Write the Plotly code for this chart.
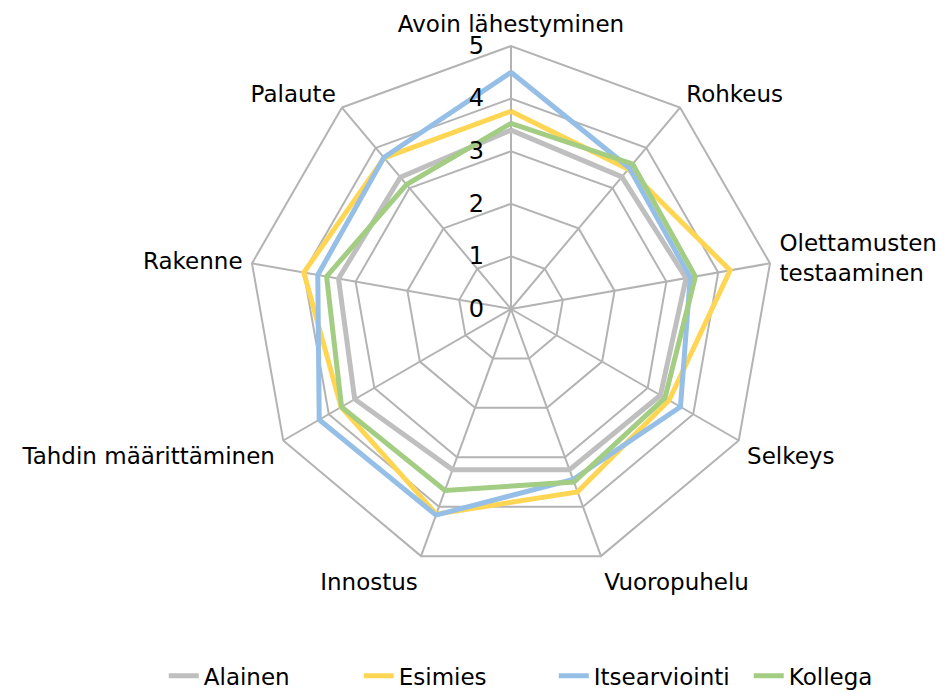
import plotly.graph_objects as go

categories = ["Avoin lähestyminen", "Rohkeus", "Olettamusten<br>testaaminen", "Selkeys",
              "Vuoropuhelu", "Innostus", "Tahdin määrittäminen", "Rakenne", "Palaute"]
alainen = [3.4, 3.28, 3.38, 3.28, 3.25, 3.25, 3.43, 3.33, 3.27]
esimies = [3.76, 3.47, 4.23, 3.47, 3.7, 4.15, 3.73, 4.0, 3.75]
itsearviointi = [4.5, 3.5, 3.46, 3.72, 3.45, 4.17, 4.21, 3.73, 3.76]
kollega = [3.53, 3.6, 3.56, 3.38, 3.5, 3.67, 3.72, 3.56, 3.09]
radial_ticks = [0, 1, 2, 3, 4, 5]

series = [
    ("Alainen", alainen, "#BFBFBF"),
    ("Esimies", esimies, "#FFD653"),
    ("Itsearviointi", itsearviointi, "#95BFE6"),
    ("Kollega", kollega, "#A2CD83"),
]

FONT = "DejaVu Sans"
GRID = "#B3B3B3"
W, H = 944, 695

fig = go.Figure()
for name, vals, color in series:
    fig.add_trace(go.Scatterpolar(
        r=vals + vals[:1],
        theta=categories + categories[:1],
        mode="lines",
        name=name,
        line=dict(color=color, width=5),
    ))

fig.update_layout(
    width=W, height=H,
    paper_bgcolor="white",
    plot_bgcolor="white",
    font=dict(family=FONT, size=23, color="black"),
    margin=dict(l=0, r=0, t=0, b=0, autoexpand=False),
    polar=dict(
        domain=dict(x=[240 / W, 766 / W], y=[131 / H, 657 / H]),
        bgcolor="white",
        gridshape="linear",
        angularaxis=dict(
            rotation=90,
            direction="clockwise",
            type="category",
            categoryorder="array",
            categoryarray=categories,
            showline=True,
            linecolor=GRID,
            linewidth=2,
            gridcolor=GRID,
            gridwidth=2,
            ticks="outside",
            ticklen=4,
            tickcolor="rgba(0,0,0,0)",
            tickfont=dict(family=FONT, size=23, color="black"),
        ),
        radialaxis=dict(
            range=[0, 5],
            tickvals=radial_ticks,
            angle=90,
            side="counterclockwise",
            showline=False,
            gridcolor=GRID,
            gridwidth=2,
            ticks="outside",
            ticklen=18,
            tickcolor="rgba(0,0,0,0)",
            tickangle=90,
            tickfont=dict(family=FONT, size=24, color="black"),
        ),
    ),
    legend=dict(
        orientation="h",
        x=0.165, xanchor="left",
        y=0.039, yanchor="middle",
        font=dict(family=FONT, size=23, color="black"),
        entrywidth=150,
    ),
)

fig.write_html("out.html")
